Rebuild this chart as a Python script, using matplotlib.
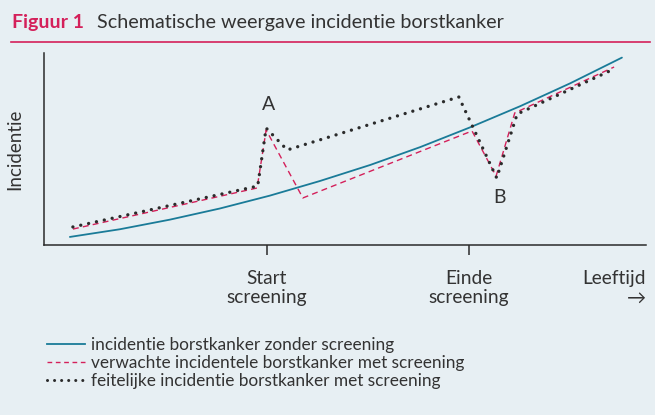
import matplotlib
matplotlib.use("Agg")
import matplotlib.pyplot as plt
from matplotlib.lines import Line2D

plt.rcParams["font.family"] = ["Lato", "DejaVu Sans"]

# leeftijd (arbitrary units 0-100) and incidentie (arbitrary units 0-100)
age_base = [4.3, 12.6, 20.9, 29.2, 37.5, 45.8, 54.2, 62.5, 70.8, 79.1, 87.4, 96.0]
inc_base = [4.2, 8.2, 13.2, 19.0, 25.7, 33.3, 41.7, 51.0, 61.3, 72.3, 84.2, 97.6]

age_expected = [4.8, 35.4, 36.9, 43.0, 71.1, 75.1, 78.2, 94.7]
inc_expected = [8.3, 29.7, 59.9, 24.5, 59.4, 35.9, 68.8, 92.7]

age_actual = [4.8, 35.5, 36.9, 40.4, 68.9, 75.2, 78.6, 94.7]
inc_actual = [9.4, 30.7, 60.9, 49.5, 77.1, 34.9, 68.2, 91.7]

tick_pos = [37.0, 70.6]
tick_labels = ["Start\nscreening", "Einde\nscreening"]

labels = [
    "incidentie borstkanker zonder screening",
    "verwachte incidentele borstkanker met screening",
    "feitelijke incidentie borstkanker met screening",
]

bg = "#e7eff3"
teal = "#1a7b98"
red = "#d4205a"
dark = "#2b2b2b"
text_col = "#333333"

W, H = 655, 415
fig = plt.figure(figsize=(W / 100, H / 100), dpi=100, facecolor=bg)

# title + rule
fig.text(12 / W, 1 - 28 / H, "Figuur 1", color=red, fontsize=14,
         fontweight="bold", va="baseline", ha="left")
fig.text(97 / W, 1 - 28 / H, "Schematische weergave incidentie borstkanker",
         color=text_col, fontsize=14.2, va="baseline", ha="left")
fig.add_artist(Line2D([11 / W, 650 / W], [1 - 42 / H, 1 - 42 / H],
                      color=red, lw=1.2, transform=fig.transFigure))

ax = fig.add_axes([44 / W, 1 - 245 / H, (646 - 44) / W, (245 - 53) / H])
ax.set_facecolor(bg)
ax.set_xlim(0, 100)
ax.set_ylim(0, 100)

ax.plot(age_base, inc_base, color=teal, lw=1.3, solid_capstyle="round")
ax.plot(age_expected, inc_expected, color=red, lw=1.0, dashes=(4.3, 3.0))
ax.plot(age_actual, inc_actual, color=dark, lw=2.4,
        linestyle=(0, (0.01, 2.4)), dash_capstyle="round")

ax.text(37.3, 73.0, "A", fontsize=14, color=text_col, ha="center", va="center")
ax.text(75.6, 25.0, "B", fontsize=14, color=text_col, ha="center", va="center")

for side in ["top", "right"]:
    ax.spines[side].set_visible(False)
for side in ["left", "bottom"]:
    ax.spines[side].set_color(dark)
    ax.spines[side].set_linewidth(1.1)

ax.set_yticks([])
ax.set_xticks(tick_pos)
ax.set_xticklabels(tick_labels, fontsize=13.8, color=text_col, linespacing=1.15)
ax.tick_params(axis="x", direction="out", length=7, width=1.1, color=dark, pad=11)

ax.set_ylabel("Incidentie", fontsize=13.5, color=text_col, labelpad=15)

ax.text(1.0, -0.132, "Leeftijd\n\u2192", transform=ax.transAxes, fontsize=13.8,
        color=text_col, ha="right", va="top", linespacing=1.15)

handles = [
    Line2D([], [], color=teal, lw=1.3),
    Line2D([], [], color=red, lw=1.0, dashes=(3.4, 2.6)),
    Line2D([], [], color=dark, lw=2.2, linestyle=(0, (0.01, 2.3)),
           dash_capstyle="round"),
]
fig.legend(handles, labels, loc="upper left", bbox_to_anchor=(40 / W, 1 - 330 / H),
           frameon=False, fontsize=12.4, handlelength=2.2, handletextpad=0.35,
           labelspacing=0.12, labelcolor=text_col, borderaxespad=0)

fig.savefig("out.png", dpi=100, facecolor=bg)
